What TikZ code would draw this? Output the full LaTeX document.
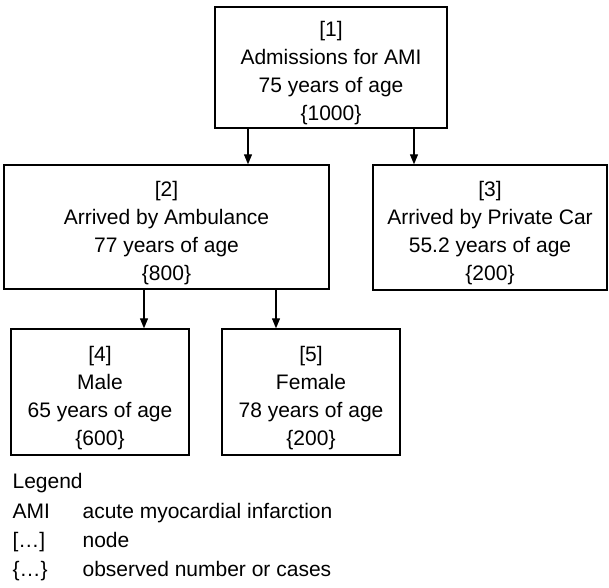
\documentclass[tikz,border=0pt]{standalone}
\usepackage{fontspec}
\setmainfont{Liberation Sans}
\usetikzlibrary{arrows.meta}
\newcommand\boxtop{\rule{0pt}{27pt}}
\begin{document}
\begin{tikzpicture}
[ x=1pt, y=-1pt, line width=1.2pt
, font=\fontsize{21}{28}\selectfont
, box/.style={rectangle, draw, line width=1.4pt, align=center, inner sep=0pt}
, arrow/.style={-{Triangle[length=10pt, width=8pt]}}
, legendkey/.style={anchor=base west, inner sep=0pt}
, legendtext/.style={anchor=base west, inner sep=0pt}
]
\useasboundingbox (0,0) rectangle (609,587);
% Boxes:
\node (adm) [box, minimum width=232pt, minimum height=121pt] at (331,67.5)
  {\boxtop[1]\\Admissions for AMI\\75 years of age\\\{1000\}};
\node (amb) [box, minimum width=325pt, minimum height=124pt] at (166.5,227)
  {\boxtop[2]\\Arrived by Ambulance\\77 years of age\\\{800\}};
\node (car) [box, minimum width=234pt, minimum height=125pt] at (490,227.5)
  {\boxtop[3]\\Arrived by Private Car\\55.2 years of age\\\{200\}};
\node (male) [box, minimum width=178pt, minimum height=126pt] at (100,392)
  {\boxtop[4]\\Male\\65 years of age\\\{600\}};
\node (female) [box, minimum width=178pt, minimum height=126pt] at (311,392)
  {\boxtop[5]\\Female\\78 years of age\\\{200\}};
% Arrows:
\draw [arrow] ([xshift=-83pt]adm.south) -- ([xshift=-83pt]adm.south |- amb.north);
\draw [arrow] ([xshift=83pt]adm.south) -- ([xshift=83pt]adm.south |- car.north);
\draw [arrow] ([xshift=-22.5pt]amb.south) -- ([xshift=-22.5pt]amb.south |- male.north);
\draw [arrow] ([xshift=109.5pt]amb.south) -- ([xshift=109.5pt]amb.south |- female.north);
% Legend:
\node (leg) [legendkey] at (12,488) {Legend};
\node (ami) [legendkey] at (12,518) {AMI};
\node (brk) [legendkey] at (12,547) {[…]};
\node (brc) [legendkey] at (12,576) {\{…\}};
\node (amitext) [legendtext] at (82,518) {acute myocardial infarction};
\node (brktext) [legendtext] at (82,547) {node};
\node (brctext) [legendtext] at (82,576) {observed number or cases};
\end{tikzpicture}
\end{document}
